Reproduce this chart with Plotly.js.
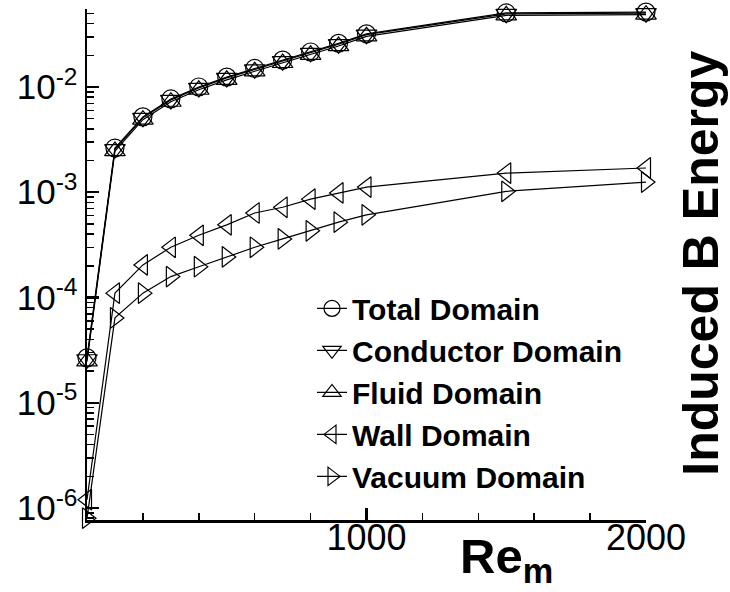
<!DOCTYPE html>
<html>
<head>
<meta charset="utf-8">
<script src="https://cdn.plot.ly/plotly-3.0.1.min.js"></script>
<style>html,body{margin:0;padding:0;background:#fff;}#chart{width:730px;height:592px;}</style>
</head>
<body>
<div id="chart"></div>
<script>
// Magnetic Reynolds number
var rem = [0, 100, 200, 300, 400, 500, 600, 700, 800, 900, 1000, 1500, 2000];
// Induced B energy per domain
var totalDomain     = [2.67e-5, 2.63e-3, 5.2e-3, 7.7e-3, 1.0e-2, 1.24e-2, 1.5e-2, 1.8e-2, 2.15e-2, 2.6e-2, 3.2e-2, 5.05e-2, 5.15e-2];
var conductorDomain = [2.59e-5, 2.57e-3, 5.09e-3, 7.54e-3, 9.8e-3, 1.22e-2, 1.47e-2, 1.76e-2, 2.11e-2, 2.55e-2, 3.14e-2, 4.95e-2, 5.03e-2];
var fluidDomain     = [2.47e-5, 2.46e-3, 4.89e-3, 7.24e-3, 9.41e-3, 1.17e-2, 1.41e-2, 1.69e-2, 2.02e-2, 2.45e-2, 3.03e-2, 4.80e-2, 4.86e-2];
var wallDomain      = [1.2e-6, 1.1e-4, 2.04e-4, 3.0e-4, 3.9e-4, 4.9e-4, 6.35e-4, 7.2e-4, 8.6e-4, 9.85e-4, 1.12e-3, 1.52e-3, 1.7e-3];
var vacuumDomain    = [8e-7, 6.4e-5, 1.1e-4, 1.58e-4, 1.96e-4, 2.43e-4, 3.0e-4, 3.6e-4, 4.3e-4, 5.2e-4, 6.1e-4, 1.02e-3, 1.25e-3];

var seriesNames = ['Total Domain', 'Conductor Domain', 'Fluid Domain', 'Wall Domain', 'Vacuum Domain'];
var xTickVals = [1000, 2000];
var xTickText = ['1000', '2000'];
var yTickVals = [1e-6, 1e-5, 1e-4, 1e-3, 1e-2];
var yTickText = ['10<sup>-6</sup>', '10<sup>-5</sup>', '10<sup>-4</sup>', '10<sup>-3</sup>', '10<sup>-2</sup>'];

var seriesData = [totalDomain, conductorDomain, fluidDomain, wallDomain, vacuumDomain];
var symbols = ['circle-open', 'triangle-down-open', 'triangle-up-open', 'triangle-left-open', 'triangle-right-open'];

var traces = seriesData.map(function (ys, i) {
  return {
    x: rem, y: ys, name: seriesNames[i], type: 'scatter', mode: 'lines+markers',
    line: {color: '#000', width: 1.2},
    marker: {symbol: symbols[i], size: 18, color: '#000', line: {color: '#000', width: 1.2}},
    cliponaxis: false
  };
});

var fontFam = '"Liberation Sans", Arial, sans-serif';
var layout = {
  width: 730, height: 592,
  margin: {l: 87, r: 84, t: 9, b: 72},
  paper_bgcolor: '#fff', plot_bgcolor: '#fff',
  font: {family: fontFam, color: '#000'},
  showlegend: true,
  legend: {
    x: 0.4025, xanchor: 'left', y: 0.465, yanchor: 'top',
    font: {family: fontFam, size: 30, color: '#000', weight: 'bold'},
    bgcolor: 'rgba(0,0,0,0)', borderwidth: 0, tracegroupgap: 0
  },
  xaxis: {
    type: 'linear', range: [0, 2000],
    showline: true, linecolor: '#000', linewidth: 2.5,
    showgrid: false, zeroline: false,
    tickmode: 'array', tickvals: xTickVals, ticktext: xTickText,
    ticks: 'inside', ticklen: 12, tickwidth: 2.5, tickcolor: '#000',
    ticklabelstandoff: -16,
    tickfont: {family: fontFam, size: 36, color: '#000'},
    minor: {dtick: 200, tick0: 0, ticks: 'inside', ticklen: 7, tickwidth: 1.5, tickcolor: '#000', showgrid: false}
  },
  yaxis: {
    type: 'log', range: [-6.114, -1.259],
    showline: true, linecolor: '#000', linewidth: 2.5,
    showgrid: false, zeroline: false,
    tickmode: 'array', tickvals: yTickVals, ticktext: yTickText,
    ticks: 'inside', ticklen: 12, tickwidth: 2.5, tickcolor: '#000',
    tickfont: {family: fontFam, size: 35, color: '#000'},
    minor: {dtick: 'D1', ticks: 'inside', ticklen: 7, tickwidth: 1.5, tickcolor: '#000', showgrid: false}
  },
  annotations: [
    {text: 'Induced B Energy', xref: 'paper', yref: 'paper', x: 1.098, y: 0.503,
     xanchor: 'center', yanchor: 'middle', textangle: -90, showarrow: false,
     font: {family: fontFam, size: 50, color: '#000', weight: 'bold'}},
    {text: 'Re<sub>m</sub>', xref: 'paper', yref: 'paper', x: 0.751, y: -0.078,
     xanchor: 'center', yanchor: 'middle', showarrow: false,
     font: {family: fontFam, size: 49, color: '#000', weight: 'bold'}}
  ]
};

Plotly.newPlot('chart', traces, layout, {displayModeBar: false, staticPlot: true});
</script>
</body>
</html>
